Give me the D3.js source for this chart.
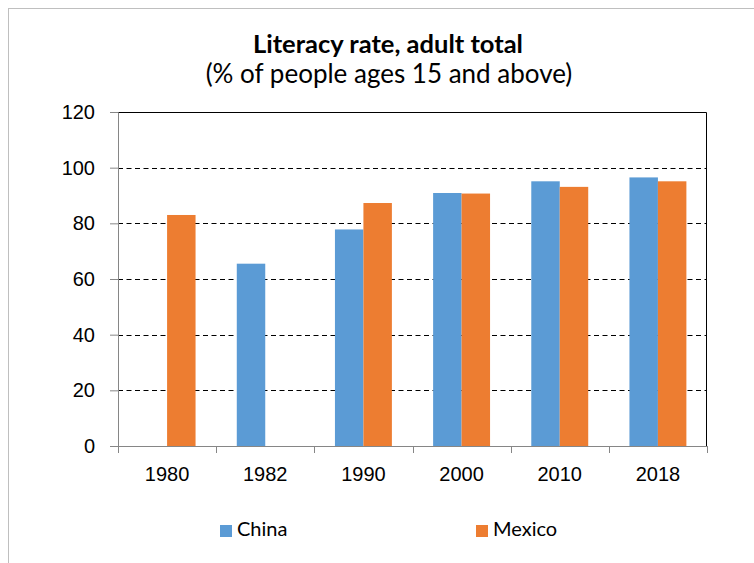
<!DOCTYPE html>
<html>
<head>
<script src="https://d3js.org/d3.v7.min.js"></script>
<style>
  body {margin: 0; background: #fff;}
  svg {font-family: Lato, "Open Sans", sans-serif;}
</style>
</head>
<body>
<div id="chart"></div>
<script>
  var years = ["1980", "1982", "1990", "2000", "2010", "2018"];
  var seriesNames = ["China", "Mexico"];
  var china = [null, 65.5, 77.8, 90.9, 95.1, 96.5];
  var mexico = [83.0, null, 87.3, 90.7, 93.1, 95.1];
  var yTicks = [0, 20, 40, 60, 80, 100, 120];
  var colors = {China: "#5b9bd5", Mexico: "#ed7d31"};

  var margin = {top: 112, right: 47, bottom: 117, left: 118};
  var W = 754, H = 563;
  var width = W - margin.left - margin.right;
  var height = H - margin.top - margin.bottom;

  var rows = years.map(function(y, i) {
    return {year: y, China: china[i], Mexico: mexico[i]};
  });

  var svg = d3.select("#chart").append("svg")
    .attr("width", W)
    .attr("height", H);

  // outer chart frame
  svg.append("rect")
    .attr("x", 8.5).attr("y", 8.5)
    .attr("width", 800).attr("height", 600)
    .attr("fill", "none")
    .attr("stroke", "#bfbfbf");

  svg.append("text")
    .attr("x", 388).attr("y", 53)
    .attr("text-anchor", "middle")
    .attr("font-size", 25.5)
    .attr("font-weight", "bold")
    .text("Literacy rate, adult total");

  svg.append("text")
    .attr("x", 389).attr("y", 83)
    .attr("text-anchor", "middle")
    .attr("font-size", 26)
    .text("(% of people ages 15 and above)");

  var g = svg.append("g")
    .attr("transform", "translate(" + margin.left + "," + margin.top + ")");

  var x = d3.scaleBand().domain(years).range([0, width]).paddingInner(0).paddingOuter(0);
  var x1 = d3.scaleBand().domain(seriesNames)
    .range([x.bandwidth() * 0.21, x.bandwidth() * 0.79]).padding(0);
  var y = d3.scaleLinear().domain([0, 120]).range([height, 0]);

  // dashed gridlines
  g.append("g")
    .selectAll("line")
    .data(yTicks.filter(function(t){ return t > 0 && t < 120; }))
    .join("line")
    .attr("x1", 0).attr("x2", width)
    .attr("y1", function(d){ return Math.round(y(d)) + 0.5; })
    .attr("y2", function(d){ return Math.round(y(d)) + 0.5; })
    .attr("stroke", "#000")
    .attr("stroke-width", 1.2)
    .attr("stroke-dasharray", "5,3.5");

  // bars
  seriesNames.forEach(function(s) {
    g.append("g")
      .selectAll("rect")
      .data(rows.filter(function(d){ return d[s] != null; }))
      .join("rect")
      .attr("x", function(d){ return x(d.year) + x1(s); })
      .attr("width", x1.bandwidth())
      .attr("y", function(d){ return y(d[s]); })
      .attr("height", function(d){ return height - y(d[s]); })
      .attr("fill", colors[s]);
  });

  // top and right border of plot
  g.append("path")
    .attr("d", "M0,0.5H" + (width - 0.5) + "V" + height)
    .attr("fill", "none")
    .attr("stroke", "#000");

  var yAxis = g.append("g")
    .call(d3.axisLeft(y).tickValues(yTicks).tickSize(8).tickPadding(15));
  yAxis.select(".domain").attr("stroke", "#868686");
  yAxis.selectAll(".tick line").attr("stroke", "#868686");
  yAxis.selectAll("text").attr("font-size", 20).attr("fill", "#000");

  var xAxis = g.append("g")
    .attr("transform", "translate(0," + height + ")")
    .call(d3.axisBottom(x).tickSize(0).tickPadding(21));
  xAxis.select(".domain").attr("stroke", "#868686");
  xAxis.selectAll("text").attr("font-size", 20).attr("fill", "#000");

  // category boundary ticks
  xAxis.append("g")
    .selectAll("line")
    .data(years.concat(["end"]))
    .join("line")
    .attr("x1", function(d, i){ return Math.round(i * x.step()) + 0.5; })
    .attr("x2", function(d, i){ return Math.round(i * x.step()) + 0.5; })
    .attr("y1", 0).attr("y2", 7)
    .attr("stroke", "#868686");

  // legend
  var legendX = {China: 220, Mexico: 476};
  var legend = svg.append("g");
  seriesNames.forEach(function(s) {
    legend.append("rect")
      .attr("x", legendX[s]).attr("y", 525)
      .attr("width", 12).attr("height", 12)
      .attr("fill", colors[s]);
    legend.append("text")
      .attr("x", legendX[s] + 17).attr("y", 536)
      .attr("font-size", 20)
      .text(s);
  });
</script>
</body>
</html>
